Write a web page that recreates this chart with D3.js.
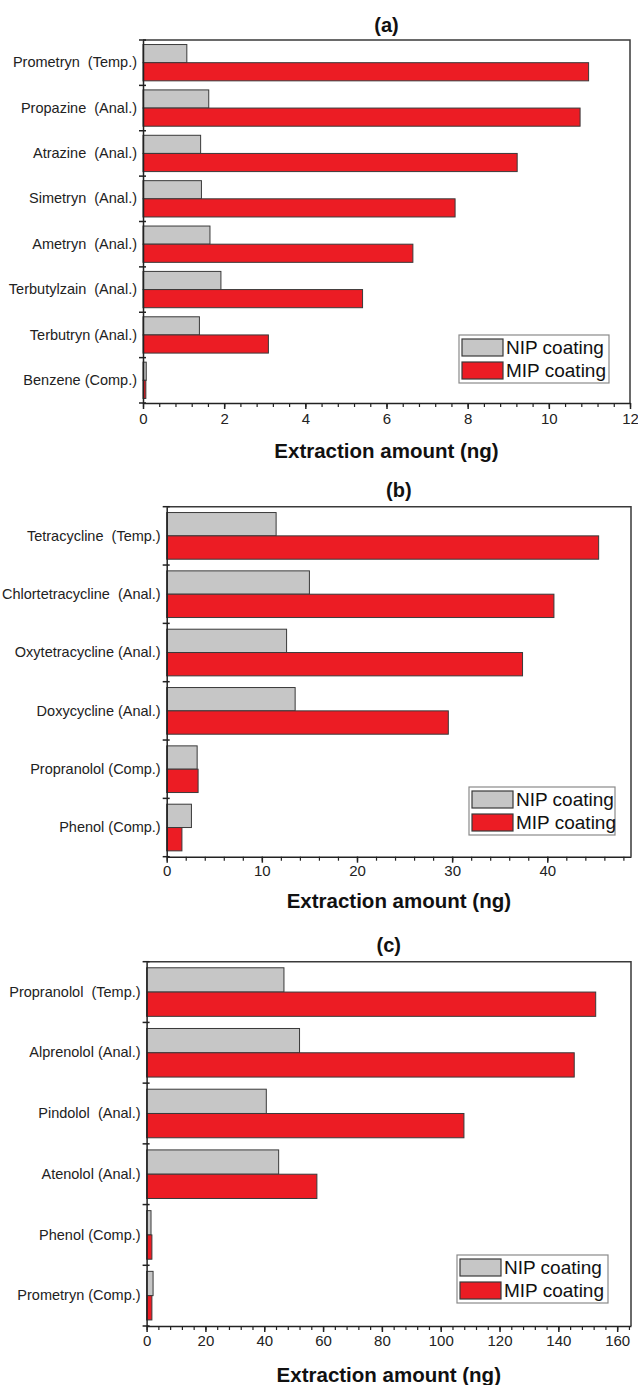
<!DOCTYPE html>
<html>
<head>
<meta charset="utf-8">
<script src="https://cdn.jsdelivr.net/npm/d3@7"></script>
<style>
  body { margin: 0; background: #fff; }
  svg { display: block; font-family: "Liberation Sans", Arial, sans-serif; }
  svg text { white-space: pre; }
</style>
</head>
<body>
<script>
// panel (a)
var catsA = ["Prometryn  (Temp.)", "Propazine  (Anal.)", "Atrazine  (Anal.)", "Simetryn  (Anal.)",
             "Ametryn  (Anal.)", "Terbutylzain  (Anal.)", "Terbutryn (Anal.)", "Benzene (Comp.)"];
var nipA = [1.08, 1.62, 1.42, 1.44, 1.65, 1.92, 1.39, 0.08];
var mipA = [10.98, 10.77, 9.22, 7.69, 6.65, 5.41, 3.09, 0.07];

// panel (b)
var catsB = ["Tetracycline  (Temp.)", "Chlortetracycline  (Anal.)", "Oxytetracycline (Anal.)",
             "Doxycycline (Anal.)", "Propranolol (Comp.)", "Phenol (Comp.)"];
var nipB = [11.5, 15.0, 12.6, 13.5, 3.2, 2.6];
var mipB = [45.4, 40.7, 37.4, 29.6, 3.3, 1.6];

// panel (c)
var catsC = ["Propranolol  (Temp.)", "Alprenolol (Anal.)", "Pindolol  (Anal.)", "Atenolol (Anal.)",
             "Phenol (Comp.)", "Prometryn (Comp.)"];
var nipC = [46.7, 52.0, 40.7, 44.9, 1.5, 2.2];
var mipC = [152.7, 145.4, 107.9, 57.9, 1.8, 1.8];

var seriesNames = ["NIP coating", "MIP coating"];
var seriesColors = ["#c6c6c6", "#ec1c24"];
var xTitle = "Extraction amount (ng)";

var svg = d3.select("body").append("svg")
    .attr("width", 638)
    .attr("height", 1385);

function panel(o) {
  var g = svg.append("g");

  var x = d3.scaleLinear()
      .domain([0, o.xmax])
      .range([o.left, o.right]);

  var y = d3.scaleBand()
      .domain(o.cats)
      .range([o.top, o.bottom])
      .paddingInner(0.2)
      .paddingOuter(0.1);

  var bw = y.bandwidth() / 2;

  // frame (top + right)
  g.append("path")
      .attr("d", "M" + o.left + "," + o.top + "H" + o.right + "V" + o.bottom)
      .attr("fill", "none")
      .attr("stroke", "#3a3a3a")
      .attr("stroke-width", 1.5);

  // bars
  [o.nip, o.mip].forEach(function(vals, s) {
    g.append("g").selectAll("rect")
        .data(o.cats)
      .enter().append("rect")
        .attr("x", x(0))
        .attr("y", function(d) { return y(d) + s * bw; })
        .attr("width", function(d, i) { return x(vals[i]) - x(0); })
        .attr("height", bw)
        .attr("fill", seriesColors[s])
        .attr("stroke", "#3a3a3a")
        .attr("stroke-width", 1);
  });

  // left axis with category labels
  var ya = g.append("g")
      .attr("transform", "translate(" + o.left + ",0)")
      .call(d3.axisLeft(y).tickSize(0).tickPadding(6));
  ya.select(".domain").attr("stroke", "#222").attr("stroke-width", 1.5);
  ya.selectAll("text")
      .attr("font-size", 14.5)
      .attr("font-family", "Liberation Sans, Arial, sans-serif")
      .attr("fill", "#222");

  // boundary ticks on the left axis
  g.append("g").selectAll("line")
      .data(d3.range(o.cats.length + 1))
    .enter().append("line")
      .attr("x1", o.left - 4)
      .attr("x2", o.left + 3)
      .attr("y1", function(i) { return o.top + i * y.step(); })
      .attr("y2", function(i) { return o.top + i * y.step(); })
      .attr("stroke", "#222")
      .attr("stroke-width", 1.5);

  // bottom axis, minor then major
  var minor = d3.range(0, o.xmax + 1e-6, o.step / 5);
  g.append("g")
      .attr("transform", "translate(0," + o.bottom + ")")
      .call(d3.axisBottom(x).tickValues(minor).tickSize(4).tickFormat(""))
    .call(function(a) {
      a.select(".domain").remove();
      a.selectAll("line").attr("stroke", "#222").attr("stroke-width", 1.2);
    });

  var xa = g.append("g")
      .attr("transform", "translate(0," + o.bottom + ")")
      .call(d3.axisBottom(x).tickValues(d3.range(0, o.xmax + 1e-6, o.step))
        .tickSize(6).tickSizeOuter(0).tickPadding(o.tickPad));
  xa.select(".domain").attr("stroke", "#222").attr("stroke-width", 1.5);
  xa.selectAll("line").attr("stroke", "#222").attr("stroke-width", 1.5);
  xa.selectAll("text")
      .attr("font-size", 15)
      .attr("font-family", "Liberation Sans, Arial, sans-serif")
      .attr("fill", "#222");

  // titles
  g.append("text")
      .attr("x", (o.left + o.right) / 2)
      .attr("y", o.top - o.titleOff)
      .attr("text-anchor", "middle")
      .attr("dominant-baseline", "central")
      .attr("font-size", 20)
      .attr("font-weight", "bold")
      .attr("fill", "#111")
      .text(o.label);

  g.append("text")
      .attr("x", (o.left + o.right) / 2)
      .attr("y", o.bottom + o.xTitleOff)
      .attr("text-anchor", "middle")
      .attr("dominant-baseline", "central")
      .attr("font-size", 20.5)
      .attr("font-weight", "bold")
      .attr("fill", "#111")
      .text(xTitle);

  // legend
  var lg = g.append("g")
      .attr("transform", "translate(" + o.legX + "," + o.legY + ")");
  lg.append("rect")
      .attr("width", o.legW)
      .attr("height", 48)
      .attr("fill", "#fff")
      .attr("stroke", "#8a8a8a")
      .attr("stroke-width", 1.2);
  seriesNames.forEach(function(name, s) {
    lg.append("rect")
        .attr("x", 3)
        .attr("y", 4 + s * 23)
        .attr("width", 41)
        .attr("height", 17)
        .attr("fill", seriesColors[s])
        .attr("stroke", "#3a3a3a")
        .attr("stroke-width", 1.2);
    lg.append("text")
        .attr("x", 47)
        .attr("y", 12.5 + s * 23)
        .attr("dominant-baseline", "central")
        .attr("font-size", 19)
        .attr("fill", "#111")
        .text(name);
  });
}

panel({ label: "(a)", cats: catsA, nip: nipA, mip: mipA, xmax: 12, step: 2,
        left: 143, right: 630, top: 40, bottom: 403,
        titleOff: 15, tickPad: 4, xTitleOff: 47,
        legX: 459, legY: 335, legW: 150 });

panel({ label: "(b)", cats: catsB, nip: nipB, mip: mipB, xmax: 48.8, step: 10,
        left: 166.7, right: 631, top: 506.7, bottom: 856.7,
        titleOff: 16.5, tickPad: 3, xTitleOff: 44,
        legX: 469, legY: 787, legW: 146 });

panel({ label: "(c)", cats: catsC, nip: nipC, mip: mipC, xmax: 164.7, step: 20,
        left: 146.6, right: 631, top: 961.7, bottom: 1326,
        titleOff: 16.5, tickPad: 3, xTitleOff: 48,
        legX: 457, legY: 1255, legW: 151 });
</script>
</body>
</html>
